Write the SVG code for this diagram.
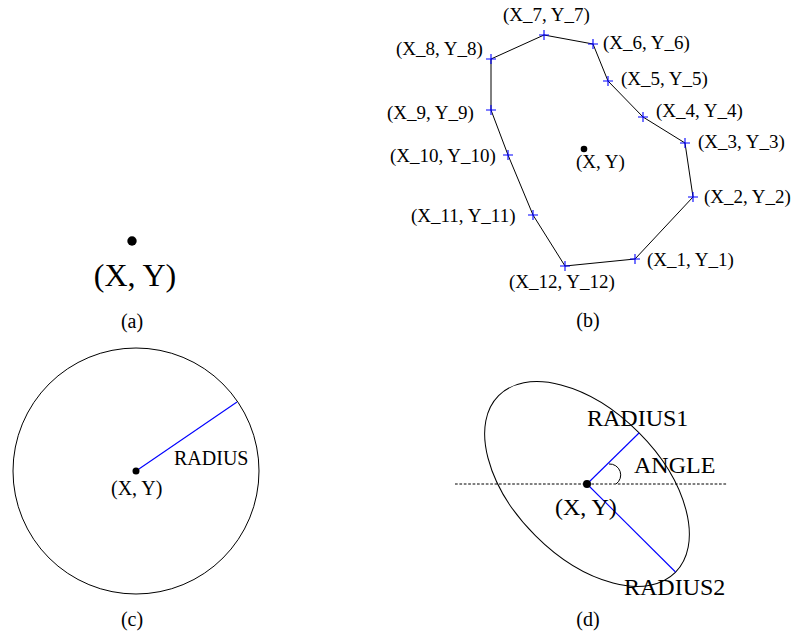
<svg xmlns="http://www.w3.org/2000/svg" width="795" height="637" viewBox="0 0 795 637">
<defs>
<style>
text{font-family:"Liberation Serif","Times New Roman",serif;fill:#000}
.s{font-size:19px}
.c{font-size:20px}
.d{font-size:24px}
.cap{font-size:20px;text-anchor:middle}
.blk{fill:none;stroke:#000;stroke-width:1}
.blu{fill:none;stroke:#0000ff;stroke-width:1.1}
.dot{fill:#000}
</style>
<path id="cross" d="M-5,0H5M0,-5V5" class="blu"/>
</defs>
<rect width="795" height="637" fill="#fff"/>

<g id="panel-a">
<circle class="dot" cx="132" cy="241" r="4.7"/>
<text x="135" y="286" style="font-size:32px;text-anchor:middle">(X, Y)</text>
<text class="cap" x="132" y="328">(a)</text>
</g>

<g id="panel-b">
<g id="connectors">
<polygon class="blk" points="635,259 693,197 685,143 643,117 608,81 593,44 544,35 491,59 491,110 508,155 533,215 565,266"/>
</g>
<g id="vertices">
<use href="#cross" x="635" y="259"/>
<use href="#cross" x="693" y="197"/>
<use href="#cross" x="685" y="143"/>
<use href="#cross" x="643" y="117"/>
<use href="#cross" x="608" y="81"/>
<use href="#cross" x="593" y="44"/>
<use href="#cross" x="544" y="35"/>
<use href="#cross" x="491" y="59"/>
<use href="#cross" x="491" y="110"/>
<use href="#cross" x="508" y="155"/>
<use href="#cross" x="533" y="215"/>
<use href="#cross" x="565" y="266"/>
</g>
<circle class="dot" cx="584" cy="149" r="3.3"/>
<text class="s" x="576" y="168">(X, Y)</text>
<text class="s" x="647" y="266">(X_1, Y_1)</text>
<text class="s" x="704" y="203">(X_2, Y_2)</text>
<text class="s" x="698" y="148">(X_3, Y_3)</text>
<text class="s" x="656" y="117">(X_4, Y_4)</text>
<text class="s" x="621" y="85">(X_5, Y_5)</text>
<text class="s" x="603" y="49">(X_6, Y_6)</text>
<text class="s" x="503" y="21">(X_7, Y_7)</text>
<text class="s" x="396" y="55">(X_8, Y_8)</text>
<text class="s" x="387" y="119">(X_9, Y_9)</text>
<text class="s" x="390" y="162">(X_10, Y_10)</text>
<text class="s" x="411" y="222">(X_11, Y_11)</text>
<text class="s" x="509" y="288">(X_12, Y_12)</text>
<text class="cap" x="588" y="327">(b)</text>
</g>

<g id="panel-c">
<circle class="blk" cx="136" cy="471" r="123"/>
<line class="blu" x1="136" y1="471" x2="237" y2="402"/>
<circle class="dot" cx="136" cy="471" r="3.5"/>
<text class="c" x="174" y="465">RADIUS</text>
<text class="c" x="111" y="495">(X, Y)</text>
<text class="cap" x="132" y="626">(c)</text>
</g>

<g id="panel-d">
<ellipse class="blk" cx="0" cy="0" rx="125" ry="73" transform="translate(587,484) rotate(45)"/>
<line x1="455" y1="484" x2="727" y2="484" stroke="#000" stroke-width="1" stroke-dasharray="2.7,1.7"/>
<line class="blu" x1="587" y1="484" x2="639" y2="433"/>
<line class="blu" x1="587" y1="484" x2="675.5" y2="572"/>
<path class="blk" d="M609,464 A11,11 0 0 1 616,484"/>
<circle class="dot" cx="587" cy="484" r="4"/>
<text class="d" x="587" y="426">RADIUS1</text>
<text class="d" x="634" y="473">ANGLE</text>
<text class="d" x="555" y="515">(X, Y)</text>
<text class="d" x="624" y="595">RADIUS2</text>
<text class="cap" x="588" y="626">(d)</text>
</g>
</svg>
